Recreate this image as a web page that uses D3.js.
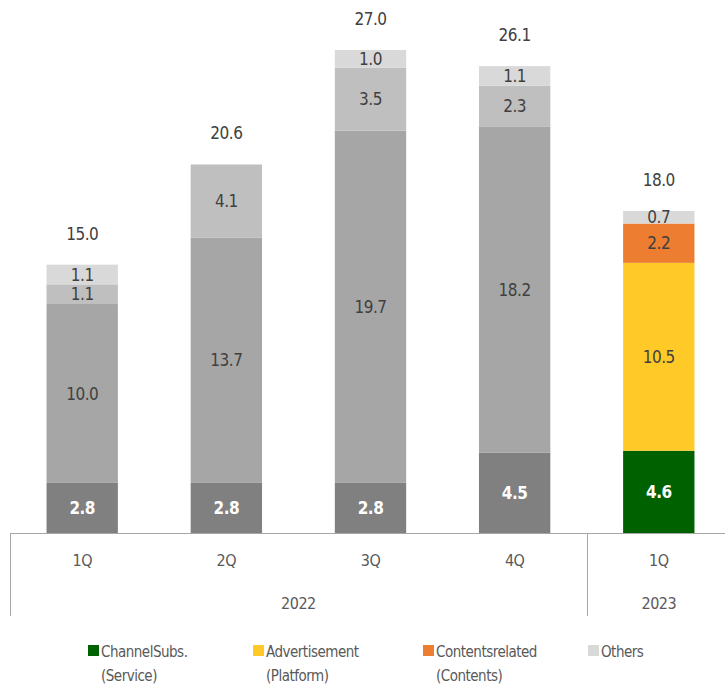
<!DOCTYPE html>
<html>
<head>
<meta charset="utf-8">
<script src="https://cdn.jsdelivr.net/npm/d3@7"></script>
<style>
  body { margin: 0; background: #fff; }
  svg text { font-family: "Liberation Sans Narrow", "DejaVu Sans Condensed", "Roboto", sans-serif; letter-spacing: -0.5px; }
</style>
</head>
<body>
<div id="chart"></div>
<script>
// quarters and years
var quarters = ["1Q", "2Q", "3Q", "4Q", "1Q"];
var years = ["2022", "2022", "2022", "2022", "2023"];
var keys = ["2022-1Q", "2022-2Q", "2022-3Q", "2022-4Q", "2023-1Q"];

// segments, bottom to top
var channelSubs = [2.8, 2.8, 2.8, 4.5, 4.6];
var advertisement = [10.0, 13.7, 19.7, 18.2, 10.5];
var contents = [1.1, 4.1, 3.5, 2.3, 2.2];
var others = [1.1, 0, 1.0, 1.1, 0.7];
var totals = [15.0, 20.6, 27.0, 26.1, 18.0];

var legendNames = [["ChannelSubs.", "(Service)"], ["Advertisement", "(Platform)"], ["Contentsrelated", "(Contents)"], ["Others", ""]];

var width = 725, height = 686;
var base = 533;

var svg = d3.select("#chart").append("svg")
  .attr("width", width)
  .attr("height", height);

var x = d3.scaleBand()
  .domain(keys)
  .range([10.5, 730.5])
  .paddingInner(0.505)
  .paddingOuter(0.25);

var y = d3.scaleLinear()
  .domain([0, 27])
  .range([base, 50]);

// 2022 bars are gray, 2023 bars use the new colours
var grays = ["#808080", "#a6a6a6", "#bfbfbf", "#d9d9d9"];
var colours = ["#006100", "#ffca28", "#ed7d31", "#d9d9d9"];
var series = [channelSubs, advertisement, contents, others];

keys.forEach(function (k, i) {
  var acc = 0;
  series.forEach(function (s, j) {
    var v = s[i];
    if (!v) return;
    var y0 = y(acc), y1 = y(acc + v);
    acc += v;
    var fill = years[i] === "2023" ? colours[j] : grays[j];
    svg.append("rect")
      .attr("x", x(k))
      .attr("y", y1)
      .attr("width", x.bandwidth())
      .attr("height", y0 - y1)
      .attr("fill", fill);
    svg.append("text")
      .attr("x", x(k) + x.bandwidth() / 2)
      .attr("y", (y0 + y1) / 2)
      .attr("dy", "0.36em")
      .attr("text-anchor", "middle")
      .attr("font-size", 17)
      .attr("font-weight", j === 0 ? "bold" : "normal")
      .attr("fill", j === 0 ? "#fff" : "#404040")
      .text(v.toFixed(1));
  });
  svg.append("text")
    .attr("x", x(k) + x.bandwidth() / 2)
    .attr("y", y(totals[i]) - 25)
    .attr("text-anchor", "middle")
    .attr("font-size", 17)
    .attr("fill", "#404040")
    .text(totals[i].toFixed(1));
});

// category axis
var axisColor = "#a6a6a6";
svg.append("line")
  .attr("x1", 10).attr("x2", width)
  .attr("y1", base + 0.5).attr("y2", base + 0.5)
  .attr("stroke", axisColor);
[10.5, 587.5].forEach(function (lx) {
  svg.append("line")
    .attr("x1", lx).attr("x2", lx)
    .attr("y1", base).attr("y2", 616)
    .attr("stroke", axisColor);
});

keys.forEach(function (k, i) {
  svg.append("text")
    .attr("x", x(k) + x.bandwidth() / 2)
    .attr("y", 566)
    .attr("text-anchor", "middle")
    .attr("font-size", 16)
    .attr("fill", "#595959")
    .text(quarters[i]);
});

var yearGroups = d3.groups(keys.map(function (k, i) { return { k: k, yr: years[i] }; }), function (d) { return d.yr; });
yearGroups.forEach(function (g) {
  var first = g[1][0].k, last = g[1][g[1].length - 1].k;
  var cx = (x(first) + x(last) + x.bandwidth()) / 2;
  svg.append("text")
    .attr("x", cx)
    .attr("y", 609)
    .attr("text-anchor", "middle")
    .attr("font-size", 16)
    .attr("fill", "#595959")
    .text(g[0]);
});

// legend
var legendX = [88, 253, 423, 588];
legendNames.forEach(function (names, i) {
  var g = svg.append("g").attr("transform", "translate(" + legendX[i] + ",645)");
  g.append("rect")
    .attr("width", 11).attr("height", 11)
    .attr("fill", colours[i]);
  g.append("text")
    .attr("x", 13).attr("y", 12)
    .attr("font-size", 15)
    .attr("fill", "#595959")
    .text(names[0]);
  g.append("text")
    .attr("x", 13).attr("y", 36)
    .attr("font-size", 15)
    .attr("fill", "#595959")
    .text(names[1]);
});
</script>
</body>
</html>
